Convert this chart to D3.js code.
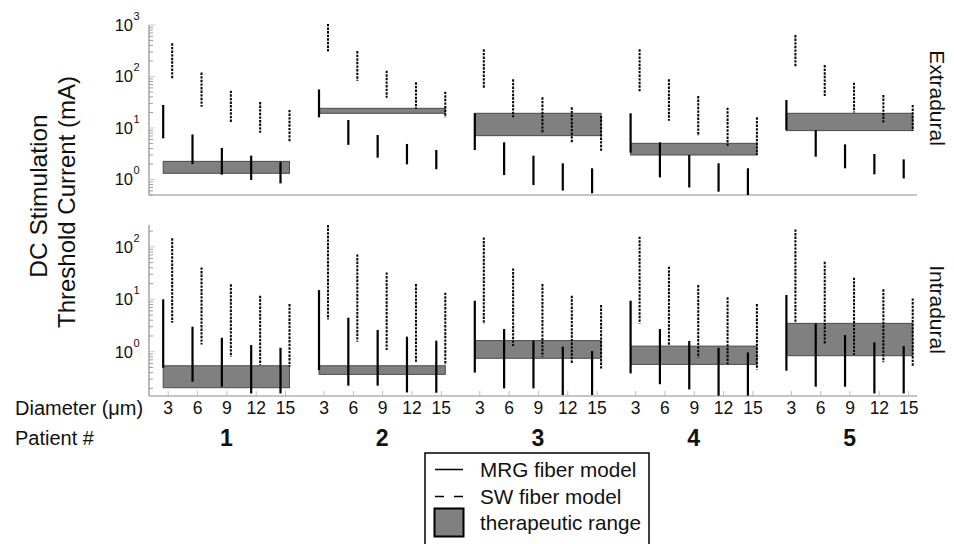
<!DOCTYPE html>
<html>
<head>
<meta charset="utf-8">
<script src="https://cdn.jsdelivr.net/npm/d3@7"></script>
<style>
  body { margin: 0; background: #fff; }
  svg { display: block; font-family: "Liberation Sans", Arial, sans-serif; }
</style>
</head>
<body>
<svg id="chart" width="954" height="544"></svg>
<script>
// ---------------- DATA ----------------
const patients = [1, 2, 3, 4, 5];
const diameters = [3, 6, 9, 12, 15];
const panels = ["Extradural", "Intradural"];

// Extradural (rows = patients, columns = diameters 3..15 µm), mA
const mrgLoExtra = [
  [6.3, 2.0, 1.24, 0.98, 0.84],
  [16.1, 4.7, 2.65, 1.97, 1.58],
  [3.74, 1.22, 0.78, 0.61, 0.54],
  [3.32, 1.10, 0.70, 0.58, 0.50],
  [9.1, 2.77, 1.65, 1.26, 1.05]
];
const mrgHiExtra = [
  [28, 7.5, 4.1, 2.9, 2.2],
  [56, 14.3, 7.3, 4.9, 3.74],
  [19.3, 5.27, 2.9, 2.06, 1.65],
  [19.3, 5.27, 2.99, 2.06, 1.65],
  [35, 9.1, 4.82, 3.13, 2.46]
];
const swLoExtra = [
  [92, 26, 12.7, 8.1, 5.4],
  [294, 83, 38.8, 23.4, 16.1],
  [59, 16.1, 8.1, 5.04, 3.57],
  [50.8, 13.9, 7.1, 4.54, 2.99],
  [155, 41.8, 19.9, 12.3, 8.75]
];
const swHiExtra = [
  [440, 119, 53, 32, 22.4],
  [1050, 312, 130, 77, 50.8],
  [337, 88, 39.4, 25.2, 17.1],
  [337, 88, 41.8, 24.8, 16.1],
  [640, 167, 76, 43.7, 28]
];
const rangeLoExtra = [1.32, 19.3, 7.1, 2.99, 8.9];
const rangeHiExtra = [2.25, 24.1, 19.3, 5.04, 19.3];

// Intradural
const mrgLoIntra = [
  [0.495, 0.267, 0.215, 0.16, 0.16],
  [0.447, 0.225, 0.225, 0.167, 0.165],
  [0.40, 0.20, 0.20, 0.149, 0.149],
  [0.386, 0.24, 0.191, 0.145, 0.145],
  [0.434, 0.215, 0.215, 0.16, 0.16]
];
const mrgHiIntra = [
  [10, 3.0, 1.85, 1.34, 1.19],
  [15, 4.46, 2.6, 1.94, 1.63],
  [9.4, 2.71, 1.63, 1.25, 1.03],
  [9.4, 2.71, 1.60, 1.19, 0.97],
  [12.1, 3.48, 2.08, 1.51, 1.28]
];
const swLoIntra = [
  [3.58, 1.38, 0.80, 0.557, 0.52],
  [4.13, 1.55, 1.08, 0.644, 0.557],
  [3.38, 1.28, 0.80, 0.58, 0.48],
  [3.47, 1.30, 0.78, 0.574, 0.46],
  [3.48, 1.40, 0.865, 0.627, 0.52]
];
const swHiIntra = [
  [146, 40.7, 19.3, 11.7, 8.1],
  [262, 72, 32.6, 19.6, 13.4],
  [152, 38.9, 19.6, 11.7, 7.8],
  [157, 42, 18.7, 10.9, 8.1],
  [216, 52, 25.9, 15.5, 10.4]
];
const rangeLoIntra = [0.206, 0.37, 0.75, 0.574, 0.84];
const rangeHiIntra = [0.54, 0.54, 1.63, 1.28, 3.48];

const yDomainExtra = [0.5, 1000];
const yDomainIntra = [0.143, 262];
const yTickExpExtra = [0, 1, 2, 3];
const yTickExpIntra = [0, 1, 2];

const legendLabels = ["MRG fiber model", "SW fiber model", "therapeutic range"];

// ---------------- LAYOUT ----------------
const svg = d3.select("#chart");
const plotLeft = 149, plotRight = 917;
const groupStep = 155.8;
const xPatient = d3.scaleLinear().domain([1, 5]).range([0, 4 * groupStep]);
const xDiam = d3.scaleLinear().domain([3, 15]).range([167.7, 285]);
const X = (p, d) => xPatient(p) + xDiam(d);
const off = 4.5;

const panelDefs = [
  {
    name: panels[0], y: d3.scaleLog().domain(yDomainExtra).range([195, 25]),
    mrgLo: mrgLoExtra, mrgHi: mrgHiExtra, swLo: swLoExtra, swHi: swHiExtra,
    rLo: rangeLoExtra, rHi: rangeHiExtra, exps: yTickExpExtra, labelY: 98
  },
  {
    name: panels[1], y: d3.scaleLog().domain(yDomainIntra).range([396, 225]),
    mrgLo: mrgLoIntra, mrgHi: mrgHiIntra, swLo: swLoIntra, swHi: swHiIntra,
    rLo: rangeLoIntra, rHi: rangeHiIntra, exps: yTickExpIntra, labelY: 309.5
  }
];

const axisGray = "#8c8c8c";

panelDefs.forEach((P, pi) => {
  const g = svg.append("g");
  const y = P.y;
  const [y0, y1] = y.range();

  // axis lines
  g.append("line").attr("x1", plotLeft).attr("x2", plotLeft).attr("y1", y1).attr("y2", y0)
    .attr("stroke", axisGray).attr("stroke-width", 1.2);
  g.append("line").attr("x1", plotLeft).attr("x2", plotRight).attr("y1", y0).attr("y2", y0)
    .attr("stroke", axisGray).attr("stroke-width", 1.2);

  // log ticks (inward)
  const dom = y.domain();
  const ticks = [];
  for (let e = -1; e <= 3; e++) {
    for (let m = 1; m <= 9; m++) {
      const v = m * Math.pow(10, e);
      if (v >= dom[0] * 0.999 && v <= dom[1] * 1.001) ticks.push({ v, major: m === 1 });
    }
  }
  g.selectAll(".tk").data(ticks).join("line")
    .attr("x1", plotLeft).attr("x2", d => plotLeft + (d.major ? 6 : 4))
    .attr("y1", d => y(d.v)).attr("y2", d => y(d.v))
    .attr("stroke", d => d.major ? "#c8c8c8" : "#a0a0a0").attr("stroke-width", 1);

  // tick labels 10^n
  g.selectAll(".yl").data(P.exps).join("text")
    .attr("x", 133).attr("y", d => y(Math.pow(10, d)))
    .attr("dy", "0.36em").attr("text-anchor", "end")
    .attr("font-size", 16.5).attr("fill", "#111").text("10");
  g.selectAll(".ys").data(P.exps).join("text")
    .attr("x", 133.5).attr("y", d => y(Math.pow(10, d)) - 5)
    .attr("font-size", 11).attr("fill", "#111").text(d => d);

  // therapeutic range boxes
  g.selectAll(".box").data(patients).join("rect")
    .attr("x", p => X(p, 3) - off)
    .attr("width", p => X(p, 15) + off - (X(p, 3) - off))
    .attr("y", (p, i) => y(P.rHi[i]))
    .attr("height", (p, i) => y(P.rLo[i]) - y(P.rHi[i]))
    .attr("fill", "#808080").attr("stroke", "#4a4a4a").attr("stroke-width", 1);

  // lines
  const items = [];
  patients.forEach((p, i) => diameters.forEach((d, j) => {
    items.push({ p, d, i, j });
  }));
  g.selectAll(".mrg").data(items).join("line")
    .attr("x1", o => X(o.p, o.d) - off).attr("x2", o => X(o.p, o.d) - off)
    .attr("y1", o => y(P.mrgHi[o.i][o.j])).attr("y2", o => y(P.mrgLo[o.i][o.j]))
    .attr("stroke", "#000").attr("stroke-width", 2.2);
  g.selectAll(".sw").data(items).join("line")
    .attr("x1", o => X(o.p, o.d) + off).attr("x2", o => X(o.p, o.d) + off)
    .attr("y1", o => y(P.swHi[o.i][o.j])).attr("y2", o => y(P.swLo[o.i][o.j]))
    .attr("stroke", "#000").attr("stroke-width", 2).attr("stroke-dasharray", "2.4,1.2");

  // panel label
  svg.append("text").attr("transform", `translate(930,${P.labelY}) rotate(90)`)
    .attr("text-anchor", "middle").attr("font-size", 21).attr("fill", "#111").text(P.name);

  // bottom axis with diameters (intradural panel only)
  if (pi === 1) {
    patients.forEach(p => {
      const sc = d3.scaleLinear().domain([3, 15]).range([X(p, 3), X(p, 15)]);
      const ax = d3.axisBottom(sc).tickValues(diameters).tickSizeInner(-5).tickSizeOuter(0).tickPadding(6);
      const ag = svg.append("g").attr("transform", `translate(0,${y0})`).call(ax);
      ag.select(".domain").remove();
      ag.selectAll(".tick line").attr("stroke", "#bdbdbd");
      ag.selectAll(".tick text").attr("font-size", 17.5).attr("fill", "#111")
        .attr("font-family", "'Liberation Sans', Arial, sans-serif");
    });
  }
});

// Diameter & Patient labels
svg.append("text").attr("x", 15).attr("y", 415).attr("font-size", 20).attr("fill", "#111")
  .text("Diameter (\u03BCm)");
svg.append("text").attr("x", 15).attr("y", 445).attr("font-size", 20).attr("fill", "#111")
  .text("Patient #");
svg.selectAll(".pn").data(patients).join("text")
  .attr("x", p => X(p, 9)).attr("y", 446).attr("text-anchor", "middle")
  .attr("font-size", 23).attr("font-weight", "bold").attr("fill", "#111").text(p => p);

// Y title
svg.append("text").attr("transform", "translate(47,196) rotate(-90)")
  .attr("text-anchor", "middle").attr("font-size", 24.5).attr("fill", "#111").text("DC Stimulation");
svg.append("text").attr("transform", "translate(75,202) rotate(-90)")
  .attr("text-anchor", "middle").attr("font-size", 24).attr("fill", "#111").text("Threshold Current (mA)");

// Legend
const lg = svg.append("g");
lg.append("rect").attr("x", 425).attr("y", 453).attr("width", 224).attr("height", 100)
  .attr("fill", "#fff").attr("stroke", "#000").attr("stroke-width", 1.5);
lg.append("line").attr("x1", 435).attr("x2", 463).attr("y1", 469.5).attr("y2", 469.5)
  .attr("stroke", "#000").attr("stroke-width", 1.5);
lg.append("line").attr("x1", 435).attr("x2", 463).attr("y1", 496.5).attr("y2", 496.5)
  .attr("stroke", "#000").attr("stroke-width", 1.5).attr("stroke-dasharray", "9,10");
lg.append("rect").attr("x", 434.5).attr("y", 508.5).attr("width", 29).attr("height", 28)
  .attr("fill", "#808080").attr("stroke", "#000").attr("stroke-width", 2);
lg.selectAll(".lt").data(legendLabels).join("text")
  .attr("x", 480).attr("y", (d, i) => [477, 504, 530][i])
  .attr("font-size", 20.7).attr("fill", "#111").text(d => d);
</script>
</body>
</html>
